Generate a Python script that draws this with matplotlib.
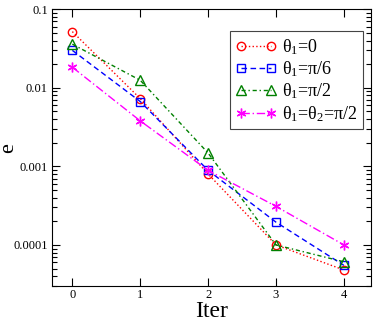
import numpy as np
import matplotlib
matplotlib.use('Agg')
import matplotlib.pyplot as plt
from matplotlib.ticker import LogLocator, NullFormatter, FixedLocator, FixedFormatter

plt.rcParams['font.family'] = ['Liberation Serif', 'DejaVu Serif']
plt.rcParams['mathtext.fontset'] = 'custom'
plt.rcParams['mathtext.rm'] = 'Liberation Serif'
plt.rcParams['mathtext.it'] = 'Liberation Serif:italic'

iters = [0, 1, 2, 3, 4]
err_theta1_0 = [0.052, 0.0073, 0.00080, 0.000100, 0.000048]
err_theta1_pi6 = [0.030, 0.0067, 0.00089, 0.000195, 0.000055]
err_theta1_pi2 = [0.036, 0.0125, 0.00148, 0.000100, 0.000061]
err_both_pi2 = [0.0183, 0.0038, 0.00089, 0.00031, 0.000100]

labels = ['θ$_1$=0', 'θ$_1$=π/6', 'θ$_1$=π/2', 'θ$_1$=θ$_2$=π/2']
ytick_vals = [0.0001, 0.001, 0.01, 0.1]
ytick_labels = ['0.0001', '0.001', '0.01', '0.1']

fig = plt.figure(figsize=(3.74, 3.21), dpi=100)
ax = fig.add_axes([0.139, 0.109, 0.853, 0.862])

ax.plot(iters, err_theta1_0, color='red', linestyle=':', lw=1.0,
        marker='o', ms=6, mfc='none', mec='red', mew=1.0, label=labels[0])
ax.plot(iters, err_theta1_pi6, color='blue', linestyle=(0, (4, 2.5)), lw=1.0,
        marker='s', ms=5.5, mfc='none', mec='blue', mew=1.0, label=labels[1])
ax.plot(iters, err_theta1_pi2, color='green', linestyle=(0, (3, 2, 1, 2)), lw=1.0,
        marker='^', ms=6.5, mfc='none', mec='green', mew=1.0, label=labels[2])
ax.plot(iters, err_both_pi2, color='magenta', linestyle=(0, (6, 2, 1, 2)), lw=1.0,
        marker=(6, 2, 0), ms=7, mfc='none', mec='magenta', mew=1.0, label=labels[3])

ax.set_yscale('log')
ax.set_ylim(3e-5, 0.1)
ax.set_xlim(-0.3, 4.4)
ax.xaxis.set_major_locator(FixedLocator(iters))
ax.yaxis.set_major_locator(FixedLocator(ytick_vals))
ax.yaxis.set_major_formatter(FixedFormatter(ytick_labels))
ax.yaxis.set_minor_locator(LogLocator(base=10, subs=np.arange(2, 10)))
ax.yaxis.set_minor_formatter(NullFormatter())

ax.tick_params(which='both', direction='in', top=True, right=True, labelsize=9)
ax.tick_params(which='major', length=6, width=0.8, pad=3)
ax.tick_params(axis='x', which='major', pad=2)
ax.tick_params(which='minor', length=3.5, width=0.8)
for s in ax.spines.values():
    s.set_linewidth(0.8)

ax.set_xlabel('Iter', fontsize=17, va='baseline')
ax.xaxis.set_label_coords(0.5, -0.112)
ax.set_ylabel('e', fontsize=16, va='center')
ax.yaxis.set_label_coords(-0.135, 0.5)

leg = ax.legend(loc='upper right', bbox_to_anchor=(0.975, 0.92), fontsize=13,
                numpoints=2, handlelength=2.3, handletextpad=0.3,
                labelspacing=0.15, borderpad=0.3, fancybox=False,
                framealpha=1, edgecolor='#444444', borderaxespad=0)
leg.get_frame().set_linewidth(0.8)

fig.savefig('out.png', dpi=100)
